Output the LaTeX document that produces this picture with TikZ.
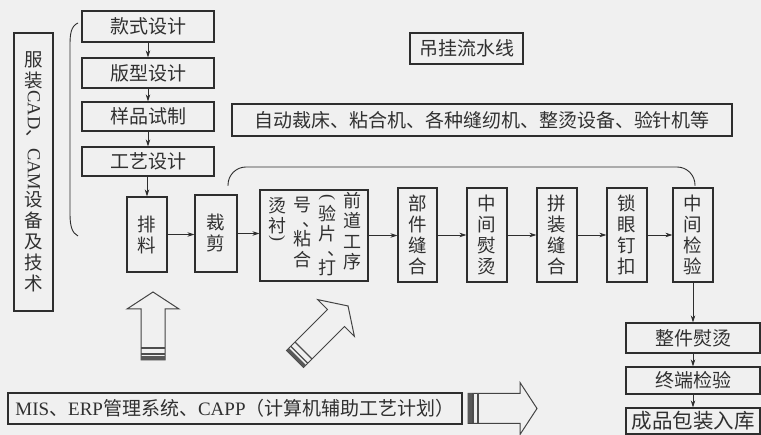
\documentclass[tikz,border=0pt]{standalone}
\usepackage{fontspec}
\usepackage{graphicx}
\setmainfont{Liberation Serif}
\newfontfamily\cjk{Noto Sans CJK SC}
\usetikzlibrary{arrows.meta}
\definecolor{bgc}{HTML}{F0F0F0}
\definecolor{linec}{HTML}{2E2E2E}
\definecolor{txtc}{HTML}{303030}
\newcommand\hollowarrow[4]{% length, body half width, head half width, stripe length
  \draw[hol] (-#2,0) -- (-#2,{-#1+17}) -- (-#3,{-#1+17}) -- (0,-#1) -- (#3,{-#1+17}) -- (#2,{-#1+17}) -- (#2,0) -- cycle;
  \fill[linec!80] (-#2,-3.5) rectangle (#2,0);
  \draw[stripe] (-#2,{-#4/2}) -- (#2,{-#4/2});
  \draw[stripe] (-#2,-#4) -- (#2,-#4);
}
\newcommand\vopen{\rotatebox[origin=c]{-90}{\rmfamily (}}
\newcommand\vclose{\rotatebox[origin=c]{-90}{\rmfamily )}}
\newcommand\vcomma{\makebox[0pt][l]{、}}
\begin{document}
\begin{tikzpicture}[x=1pt,y=-1pt,
  box/.style={draw=linec, line width=1.2pt, inner sep=0pt, text=txtc, align=center,
    font=\cjk\fontsize{19}{21}\selectfont},
  vbox/.style={box, font=\cjk\fontsize{18.5}{21}\selectfont},
  col/.style={inner sep=0pt, text=txtc, align=center, font=\cjk\fontsize{18}{20.5}\selectfont},
  arr/.style={draw=linec, line width=0.8pt, -{Stealth[length=7pt,width=4.5pt]}},
  conn/.style={draw=linec, line width=0.9pt},
  hol/.style={draw=linec!90, line width=1pt, fill=bgc, line join=miter},
  stripe/.style={draw=linec!85, line width=1.1pt}]
\fill[bgc] (0,0) rectangle (761,435);
\useasboundingbox (0,0) rectangle (761,435);

% left label box
\node[vbox, minimum width=39pt, minimum height=278pt] (cad) at (33.5,172)
  {服\\装\\\rotatebox[origin=c]{-90}{\rmfamily CAD{\cjk 、}CAM}\\设\\备\\及\\技\\术};

% brace
\draw[conn] (78,23) .. controls (71,26) and (70,34) .. (70,45) -- (70,214)
  .. controls (70,226) and (72,233) .. (78,236);

% design column
\node[box, minimum width=132pt, minimum height=31pt] (ks) at (148,26.5) {款式设计};
\node[box, minimum width=132pt, minimum height=30pt] (bx) at (148,73) {版型设计};
\node[box, minimum width=132pt, minimum height=29pt] (yp) at (148,116.5) {样品试制};
\node[box, minimum width=132pt, minimum height=29pt] (gy) at (148,161.5) {工艺设计};

% equipment boxes
\node[box, minimum width=113pt, minimum height=31pt] (dg) at (466.5,48.5) {吊挂流水线};
\node[box, minimum width=500pt, minimum height=32pt] (zdc) at (482,120)
  {自动裁床、粘合机、各种缝纫机、整烫设备、验针机等};

% process row
\node[vbox, minimum width=40pt, minimum height=75pt] (pl) at (147,234.5) {排\\料};
\node[vbox, minimum width=42pt, minimum height=77pt] (cj) at (216,233.5) {裁\\剪};
\node[vbox, minimum width=108pt, minimum height=91pt] (qd) at (314,235.5) {};
\node[col, anchor=north] (qd1) at (352,192) {前\\道\\工\\序};
\node[col, anchor=north] (qd2) at (327,194) {\vopen\\[-2pt]验\\片\\[-6pt]\vcomma\\[-1pt]打};
\node[col, anchor=north] (qd3) at (302,197) {号\\[-6pt]\vcomma\\[-1pt]粘\\合};
\node[col, anchor=north] (qd4) at (277,197) {烫\\衬\\[-10pt]\vclose};
\node[vbox, minimum width=39pt, minimum height=94pt] (bj) at (417.5,235) {部\\件\\缝\\合};
\node[vbox, minimum width=40pt, minimum height=94pt] (zy) at (487,235) {中\\间\\熨\\烫};
\node[vbox, minimum width=40pt, minimum height=94pt] (pz) at (557,235) {拼\\装\\缝\\合};
\node[vbox, minimum width=40pt, minimum height=94pt] (sy) at (627,235) {锁\\眼\\钉\\扣};
\node[vbox, minimum width=40pt, minimum height=94pt] (zj) at (693,235) {中\\间\\检\\验};

% final column
\node[box, minimum width=134pt, minimum height=30pt] (zt) at (693,338) {整件熨烫};
\node[box, minimum width=134pt, minimum height=27pt] (zd) at (693,380.5) {终端检验};
\node[box, minimum width=134pt, minimum height=26pt, font=\cjk\fontsize{20.5}{22}\selectfont] (cp) at (693,421) {成品包装入库};

% management system box
\node[box, minimum width=454pt, minimum height=31pt, font=\cjk\fontsize{19}{21}\selectfont] (mis) at (235,408.5)
  {{\rmfamily MIS}、{\rmfamily ERP}管理系统、{\rmfamily CAPP}（计算机辅助工艺计划）};

% connectors
\draw[arr] (ks) -- (bx);
\draw[arr] (bx) -- (yp);
\draw[arr] (yp) -- (gy);
\draw[arr] (gy.south -| pl.north) -- (pl.north);
\draw[arr] (pl.east) -- (pl.east -| cj.west);
\draw[arr] (cj.east) -- (cj.east -| qd.west);
\draw[arr] (qd.east) -- (qd.east -| bj.west);
\draw[arr] (bj) -- (zy);
\draw[arr] (zy) -- (pz);
\draw[arr] (pz) -- (sy);
\draw[arr] (sy) -- (zj);
\draw[arr] (zj) -- (zt);
\draw[arr] (zt) -- (zd);
\draw[arr] (zd) -- (cp);

% hanging line loop
\coordinate (c1) at (228,186);
\coordinate (c2) at (695,186);
\coordinate (ctop) at (460,167);
\draw[conn, rounded corners=18pt] (c1) |- (ctop) -| (c2);

% big hollow arrows
\begin{scope}[shift={(153,360)}]
  \hollowarrow{68}{12}{26}{12}
\end{scope}
\begin{scope}[shift={(295,359)}, rotate=-45]
  \hollowarrow{75}{12}{26}{12}
\end{scope}
\begin{scope}[shift={(468,408.5)}, rotate=-90]
  \hollowarrow{69}{15}{26}{10}
\end{scope}
\end{tikzpicture}
\end{document}
